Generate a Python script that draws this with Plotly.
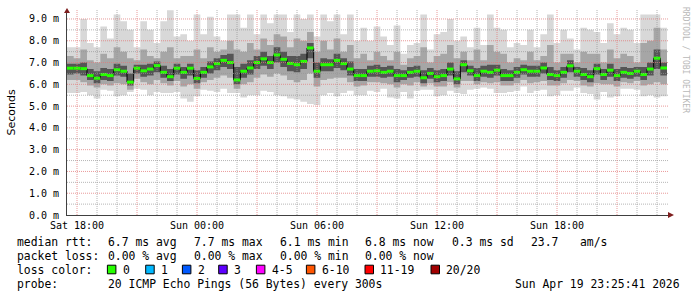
import plotly.graph_objects as go
import pandas as pd

# ---------------- data (ms), one sample every 20 minutes from Sat 17:30 ----------------
start_time = "2026-04-18 17:30:00"
step_minutes = 20

median = [6.74, 6.74, 6.72, 6.40, 6.28, 6.45, 6.40, 6.67, 6.60, 6.10, 6.74, 6.62, 6.70, 6.86, 6.55, 6.35, 6.74, 6.55, 6.74, 6.27, 6.55, 6.80, 6.95,
          7.10, 7.00, 6.20, 6.60, 6.75, 7.00, 7.17, 7.00, 7.35, 7.15, 6.96, 6.90, 7.05, 7.67, 6.60, 6.90, 6.90, 7.10, 6.95, 6.70, 6.40, 6.40, 6.60,
          6.62, 6.55, 6.60, 6.40, 6.40, 6.55, 6.60, 6.30, 6.50, 6.35, 6.40, 6.70, 6.25, 6.90, 6.62, 6.40, 6.60, 6.55, 6.65, 6.40, 6.40, 6.55,
          6.67, 6.60, 6.60, 6.75, 6.45, 6.40, 6.55, 6.85, 6.60, 6.45, 6.35, 6.72, 6.45, 6.65, 6.40, 6.55, 6.50, 6.60, 6.45, 6.70, 7.20, 6.75]

rtt_max = [7.7, 7.7, 9.0, 7.9, 7.7, 8.65, 8.1, 9.2, 8.9, 8.5, 7.7, 8.9, 8.5, 7.9, 8.9, 9.4, 8.2, 8.3, 8.0, 9.2, 8.3, 9.1, 8.2,
           8.0, 9.2, 9.2, 8.6, 9.2, 8.3, 9.2, 8.8, 9.2, 9.2, 8.4, 9.2, 9.0, 9.2, 8.2, 9.2, 8.9, 9.2, 8.3, 9.2, 8.0, 8.6, 8.0,
           8.65, 8.2, 7.8, 8.7, 7.4, 7.8, 7.9, 9.2, 7.6, 8.3, 8.4, 9.0, 8.0, 8.2, 7.7, 8.6, 7.8, 9.2, 8.6, 8.5, 7.7, 7.9,
           7.8, 8.5, 7.7, 8.3, 9.2, 7.9, 8.5, 8.1, 7.6, 8.6, 8.5, 8.4, 7.9, 8.8, 8.3, 8.6, 8.5, 7.9, 9.2, 9.2, 9.2, 8.6]

rtt_min = [5.6, 5.6, 5.65, 5.5, 5.35, 5.75, 5.7, 5.45, 5.5, 5.65, 5.8, 5.75, 5.5, 5.65, 5.6, 5.6, 5.65, 5.35, 5.2, 5.45, 5.75, 5.7, 5.65,
           5.8, 5.6, 5.6, 5.4, 5.5, 5.5, 5.7, 5.65, 5.5, 5.45, 5.35, 5.3, 5.2, 5.1, 5.05, 5.5, 5.6, 5.45, 5.6, 5.7, 5.5, 5.5, 5.7,
           5.65, 5.8, 5.4, 5.35, 5.65, 5.35, 5.7, 5.75, 5.75, 5.45, 5.5, 5.7, 5.6, 5.55, 5.75, 5.8, 5.85, 5.8, 5.6, 5.6, 5.65, 5.7,
           5.9, 5.6, 5.7, 5.75, 5.45, 5.5, 5.7, 5.7, 5.85, 5.6, 5.55, 5.3, 5.65, 5.4, 5.45, 5.8, 5.8, 5.75, 5.45, 5.5, 5.4, 5.45]

hi_mid = [7.3, 7.2, 7.6, 7.1, 7.0, 7.4, 7.2, 7.7, 7.5, 7.2, 7.1, 7.6, 7.3, 7.2, 7.5, 7.7, 7.2, 7.3, 7.3, 7.6, 7.2, 7.7, 7.5,
          7.6, 8.0, 7.6, 7.5, 7.9, 7.6, 8.1, 7.8, 8.3, 8.2, 7.7, 8.1, 8.0, 8.4, 7.5, 8.0, 7.6, 8.1, 7.5, 7.8, 7.2, 7.4, 7.1,
          7.5, 7.3, 7.1, 7.5, 6.9, 7.2, 7.3, 7.7, 7.0, 7.3, 7.4, 7.8, 7.2, 7.5, 7.1, 7.6, 7.1, 7.8, 7.5, 7.4, 7.0, 7.2,
          7.1, 7.5, 7.1, 7.3, 7.8, 7.0, 7.4, 7.4, 7.0, 7.5, 7.4, 7.4, 7.0, 7.6, 7.2, 7.4, 7.3, 7.0, 7.9, 8.0, 8.6, 7.6]

hi_in = [6.95, 6.95, 7.0, 6.7, 6.6, 6.75, 6.7, 6.95, 6.85, 6.5, 6.9, 6.9, 6.95, 7.05, 6.85, 6.7, 6.95, 6.8, 6.95, 6.65, 6.8, 7.05, 7.2,
         7.35, 7.4, 6.8, 6.95, 7.1, 7.3, 7.5, 7.3, 7.7, 7.5, 7.3, 7.3, 7.4, 7.9, 7.0, 7.2, 7.15, 7.4, 7.2, 7.05, 6.7, 6.7, 6.85,
         6.9, 6.8, 6.85, 6.7, 6.65, 6.8, 6.85, 6.65, 6.75, 6.65, 6.7, 7.0, 6.6, 7.1, 6.85, 6.75, 6.85, 6.9, 6.9, 6.7, 6.65, 6.8,
         6.9, 6.85, 6.85, 7.0, 6.8, 6.65, 6.8, 7.1, 6.8, 6.75, 6.65, 6.95, 6.7, 6.95, 6.7, 6.8, 6.75, 6.8, 6.8, 7.0, 7.6, 7.0]

lo_in = [6.45, 6.5, 6.4, 6.2, 6.05, 6.2, 6.15, 6.4, 6.35, 5.95, 6.5, 6.35, 6.4, 6.55, 6.3, 6.15, 6.45, 6.25, 6.4, 6.05, 6.3, 6.5, 6.65,
         6.8, 6.7, 6.0, 6.3, 6.45, 6.7, 6.85, 6.7, 7.0, 6.8, 6.6, 6.55, 6.7, 7.2, 6.3, 6.6, 6.6, 6.75, 6.65, 6.4, 6.15, 6.15, 6.35,
         6.35, 6.3, 6.35, 6.1, 6.2, 6.3, 6.35, 6.05, 6.25, 6.1, 6.15, 6.4, 6.0, 6.55, 6.4, 6.15, 6.35, 6.3, 6.4, 6.15, 6.15, 6.3,
         6.45, 6.35, 6.35, 6.5, 6.2, 6.15, 6.3, 6.55, 6.35, 6.2, 6.1, 6.45, 6.2, 6.35, 6.15, 6.3, 6.25, 6.35, 6.2, 6.4, 6.7, 6.4]

lo_mid = [6.2, 6.2, 6.1, 5.95, 5.85, 6.0, 5.95, 6.05, 6.0, 5.75, 6.25, 6.1, 6.0, 6.2, 6.05, 5.95, 6.15, 5.9, 6.0, 5.8, 6.1, 6.2, 6.3,
          6.4, 6.3, 5.8, 6.0, 6.1, 6.3, 6.45, 6.35, 6.5, 6.4, 6.2, 6.1, 6.2, 6.5, 5.9, 6.2, 6.25, 6.3, 6.3, 6.1, 5.9, 5.95, 6.1,
          6.1, 6.05, 6.0, 5.85, 6.0, 5.95, 6.1, 5.9, 6.05, 5.9, 5.9, 6.1, 5.85, 6.15, 6.15, 6.0, 6.1, 6.05, 6.1, 5.95, 5.95, 6.05,
          6.2, 6.05, 6.1, 6.15, 5.95, 5.95, 6.05, 6.2, 6.15, 5.95, 5.9, 6.05, 6.0, 6.0, 5.9, 6.1, 6.05, 6.15, 5.95, 6.0, 6.1, 6.0]

# axis ticks
y_tick_values = [0, 1, 2, 3, 4, 5, 6, 7, 8, 9]
y_tick_labels = ["0.0 m", "1.0 m", "2.0 m", "3.0 m", "4.0 m", "5.0 m", "6.0 m", "7.0 m", "8.0 m", "9.0 m"]
x_tick_values = ["2026-04-18 18:00", "2026-04-18 21:00", "2026-04-19 00:00", "2026-04-19 03:00", "2026-04-19 06:00",
                 "2026-04-19 09:00", "2026-04-19 12:00", "2026-04-19 15:00", "2026-04-19 18:00", "2026-04-19 21:00"]
x_tick_labels = ["Sat 18:00", "", "Sun 00:00", "", "Sun 06:00", "", "Sun 12:00", "", "Sun 18:00", ""]
x_range = ["2026-04-18 17:30:00", "2026-04-19 23:33:00"]

# legend texts
rtt_stats = ["6.7 ms avg", "7.7 ms max", "6.1 ms min", "6.8 ms now", "0.3 ms sd", "23.7", "am/s"]
loss_stats = ["0.00 % avg", "0.00 % max", "0.00 % min", "0.00 % now"]
loss_labels = ["0", "1", "2", "3", "4-5", "6-10", "11-19", "20/20"]
loss_colors = ["#26ff00", "#00b8ff", "#0059ff", "#5e00ff", "#ff00ff", "#ff5500", "#ff0000", "#a10000"]
probe_text = "20 ICMP Echo Pings (56 Bytes) every 300s"
stamp_text = "Sun Apr 19 23:25:41 2026"

# ---------------- layout geometry (pixels) ----------------
W, H = 697, 297
L, R, T, B = 67, 29, 10, 82
PW, PH = W - L - R, H - T - B
MONO = "DejaVu Sans Mono"


def px(x):
    return (x - L) / PW


def py(y):
    return (H - B - y) / PH


times = pd.date_range(start_time, periods=len(median), freq=f"{step_minutes}min")
x_edges = list(times) + [times[-1] + pd.Timedelta(minutes=step_minutes)]


def stepped(v):
    return list(v) + [v[-1]]


fig = go.Figure()

bands = [(rtt_min, rtt_max, "#d8d8d8"), (lo_mid, hi_mid, "#a6a6a6"), (lo_in, hi_in, "#555555")]
for lo, hi, col in bands:
    fig.add_trace(go.Scatter(x=x_edges, y=stepped(lo), mode="lines", line=dict(width=0, shape="hv"),
                             hoverinfo="skip", showlegend=False))
    fig.add_trace(go.Scatter(x=x_edges, y=stepped(hi), mode="lines", line=dict(width=0, shape="hv"),
                             fill="tonexty", fillcolor=col, hoverinfo="skip", showlegend=False))

fig.add_trace(go.Scatter(x=x_edges, y=stepped(median), mode="lines",
                         line=dict(color="#000000", width=1, shape="hv"), showlegend=False))

gx, gy = [], []
for i, v in enumerate(median):
    gx += [x_edges[i], x_edges[i + 1], None]
    gy += [v, v, None]
fig.add_trace(go.Scatter(x=gx, y=gy, mode="lines", line=dict(color=loss_colors[0], width=3),
                         connectgaps=False, showlegend=False))

shapes = []
# horizontal grid (above traces, like rrdtool)
for k in range(1, 19):
    yv = k * 0.5
    major = (k % 2 == 0)
    shapes.append(dict(type="line", xref="paper", yref="y", x0=0, x1=1, y0=yv, y1=yv, layer="above",
                       line=dict(color="rgba(225,120,120,0.75)" if major else "rgba(150,150,150,0.7)",
                                 width=1, dash="1px,1px")))
# vertical grid every hour, major every 3 hours
hour = pd.Timestamp("2026-04-18 18:00")
end = pd.Timestamp(x_range[1])
while hour < end:
    major = (hour.hour % 3 == 0)
    shapes.append(dict(type="line", xref="x", yref="paper", x0=hour, x1=hour, y0=0, y1=1, layer="above",
                       line=dict(color="rgba(225,120,120,0.75)" if major else "rgba(150,150,150,0.7)",
                                 width=1, dash="1px,1px")))
    hour += pd.Timedelta(hours=1)

# axis arrows
shapes.append(dict(type="path", xref="paper", yref="paper", xsizemode="pixel", ysizemode="pixel",
                   xanchor=0, yanchor=1, path="M-3,-3 L3,-3 L0,2 Z", fillcolor="#7f1f1f",
                   line=dict(width=0), layer="above"))
shapes.append(dict(type="path", xref="paper", yref="paper", xsizemode="pixel", ysizemode="pixel",
                   xanchor=1, yanchor=0, path="M0,-3 L0,3 L6,0 Z", fillcolor="#7f1f1f",
                   line=dict(width=0), layer="above"))

annotations = []


def text(x, y, s, anchor="left", size=11.4, color="#000000", family=MONO, angle=0):
    annotations.append(dict(x=px(x), y=py(y), xref="paper", yref="paper", text=s, showarrow=False,
                            xanchor=anchor, yanchor="middle", borderpad=0, textangle=angle,
                            font=dict(family=family, size=size, color=color)))


# y-axis title and credit
text(11, 112.5, "Seconds", anchor="center", size=11, family="DejaVu Sans", angle=-90)
text(686, 60, "RRDTOOL / TOBI OETIKER", anchor="center", size=8, color="#b8b8b8", angle=90)

row1, row2, row3, row4 = 241.5, 255.5, 269.5, 284
text(16, row1, "median rtt:")
for s, x in zip(rtt_stats, [107.3, 193.3, 279.3, 364.3, 451, 530.3, 579.3]):
    text(x, row1, s)
text(16, row2, "packet loss:")
for s, x in zip(loss_stats, [107.3, 193.3, 279.3, 364.3]):
    text(x, row2, s)
text(16, row3, "loss color:")
for s, col, x in zip(loss_labels, loss_colors, [121.7, 160, 196.7, 233, 270.7, 320.7, 379.3, 445.3]):
    text(x, row3, s)
    bx = x - 14.3
    shapes.append(dict(type="rect", xref="paper", yref="paper", x0=px(bx), x1=px(bx + 8.5),
                       y0=py(row3 + 4.3), y1=py(row3 - 4.3), fillcolor=col,
                       line=dict(color="#000000", width=1), layer="above"))
text(16, row4, "probe:")
text(107.3, row4, probe_text)
text(680.5, row4, stamp_text, anchor="right")

fig.update_layout(
    width=W, height=H, margin=dict(l=L, r=R, t=T, b=B, pad=0),
    paper_bgcolor="#ffffff", plot_bgcolor="#ffffff",
    showlegend=False, shapes=shapes, annotations=annotations,
    xaxis=dict(type="date", range=x_range, showgrid=False, zeroline=False, showline=True,
               linecolor="#404040", linewidth=1, tickmode="array", tickvals=x_tick_values,
               ticktext=x_tick_labels, ticks="", ticklabelstandoff=1,
               tickfont=dict(family=MONO, size=10, color="#000000")),
    yaxis=dict(range=[0, PH / 21.78], showgrid=False, zeroline=False, showline=True,
               linecolor="#404040", linewidth=1, tickmode="array", tickvals=y_tick_values,
               ticktext=y_tick_labels, ticks="", ticklabelstandoff=5,
               tickfont=dict(family=MONO, size=10, color="#000000")),
)

fig.write_html("out.html")
